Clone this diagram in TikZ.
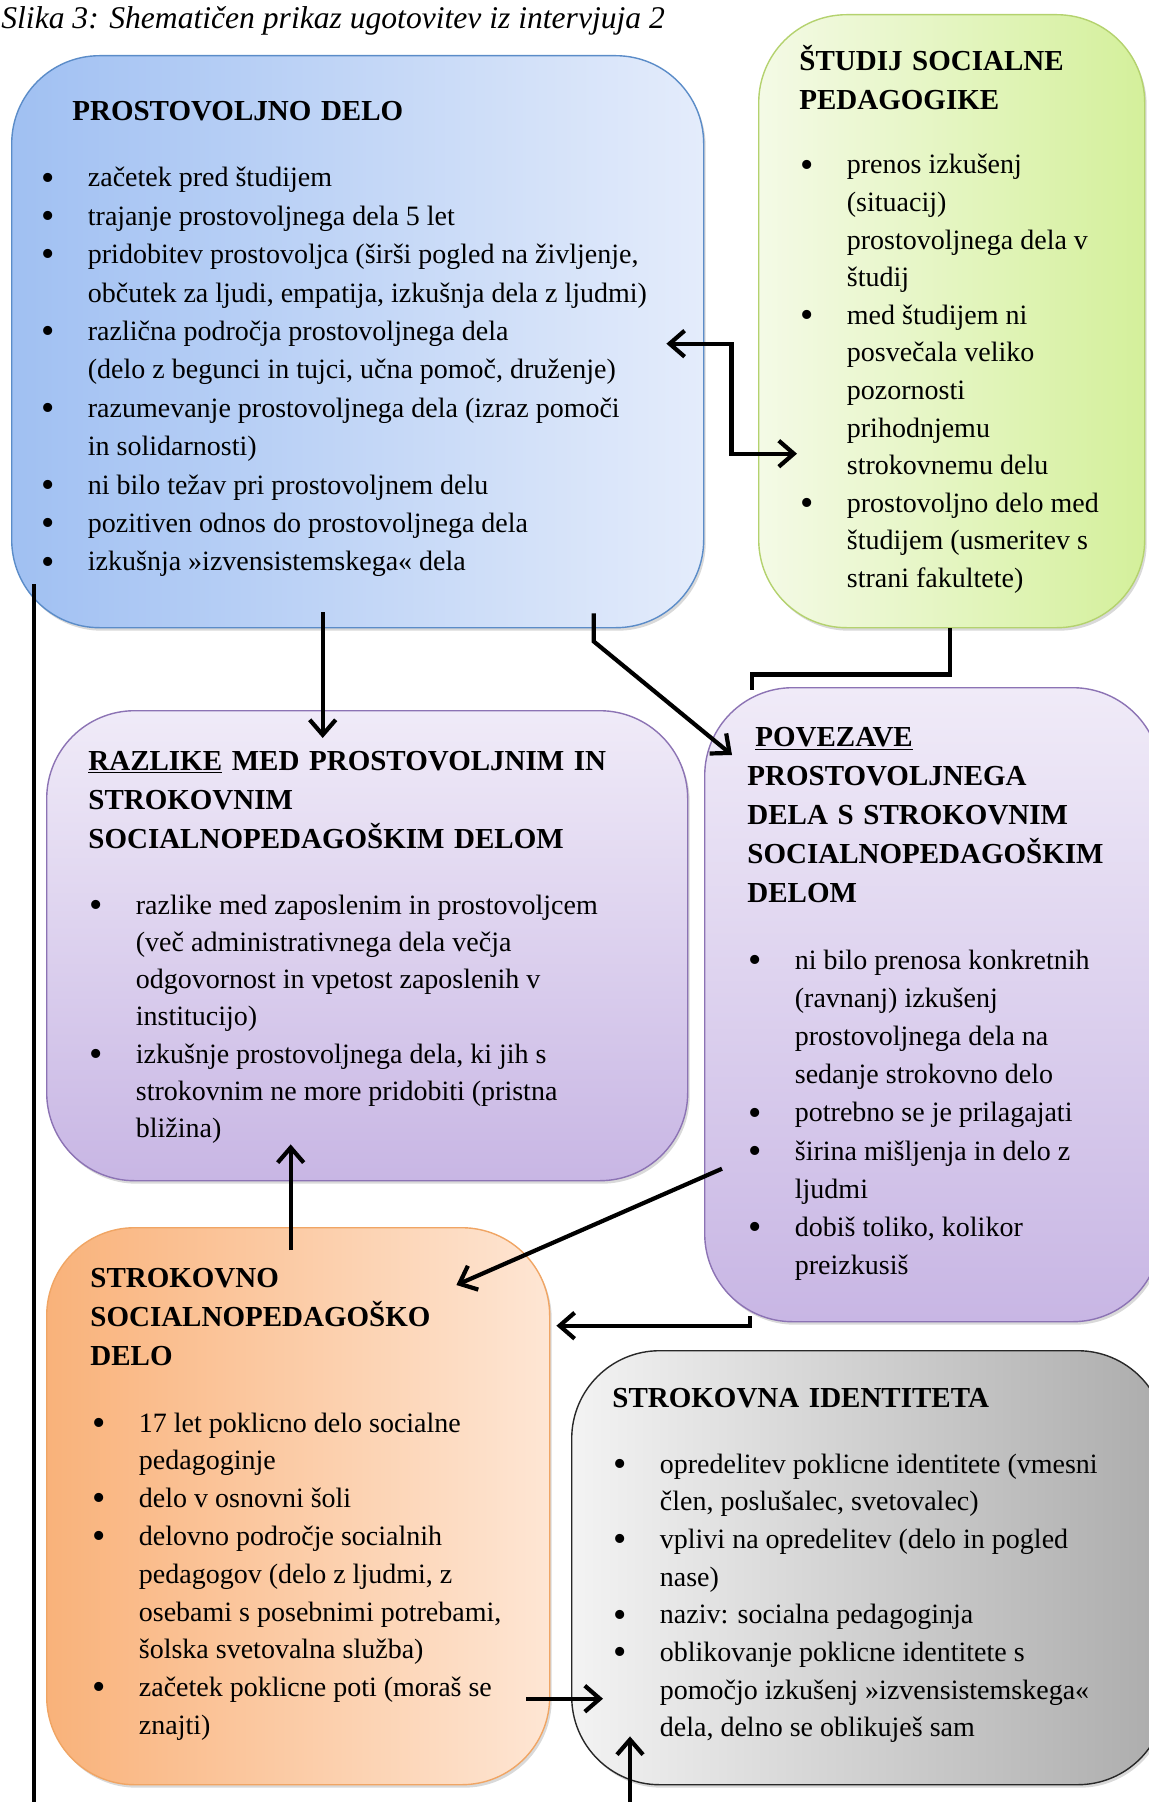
\documentclass[tikz,border=0pt]{standalone}
\usepackage{fontspec}
\setmainfont{Liberation Serif}
\usepackage{xcolor}
\usepackage{tikz}
\usetikzlibrary{arrows.meta, calc, shadows}
\definecolor{pdline}{RGB}{91, 140, 200}
\definecolor{pdleft}{RGB}{160, 192, 242}
\definecolor{pdright}{RGB}{228, 236, 251}
\definecolor{stline}{RGB}{180, 210, 110}
\definecolor{stleft}{RGB}{244, 250, 230}
\definecolor{stright}{RGB}{212, 240, 155}
\definecolor{rzline}{RGB}{140, 115, 180}
\definecolor{rztop}{RGB}{240, 235, 248}
\definecolor{rzbottom}{RGB}{200, 182, 228}
\definecolor{sdline}{RGB}{240, 165, 100}
\definecolor{sdleft}{RGB}{249, 178, 122}
\definecolor{sdright}{RGB}{254, 230, 212}
\definecolor{siline}{RGB}{40, 40, 40}
\definecolor{sileft}{RGB}{243, 243, 243}
\definecolor{siright}{RGB}{172, 172, 172}
\newcommand{\bul}{\raisebox{-1.6pt}{\fontsize{19}{19}\selectfont\textbullet}}
\newenvironment{blist}{\begin{tabular}[t]{@{}p{23.25pt}@{}l@{}}}{\end{tabular}}

\begin{document}
\begin{tikzpicture}[
    x=0.5pt, y=-0.5pt,
    >={Straight Barb[length=7.5pt, width=13pt]},
    box/.style={rectangle, rounded corners=44pt, line width=0.7pt,
                anchor=north west, inner sep=0pt,
                drop shadow={shadow xshift=1pt, shadow yshift=-1.5pt, opacity=0.3}},
    pdbox/.style={box, draw=pdline, left color=pdleft, right color=pdright},
    stbox/.style={box, draw=stline, left color=stleft, right color=stright},
    rzbox/.style={box, draw=rzline, top color=rztop, bottom color=rzbottom},
    sdbox/.style={box, draw=sdline, left color=sdleft, right color=sdright},
    sibox/.style={box, draw=siline, left color=sileft, right color=siright},
    boxtitle/.style={anchor=base west, inner sep=0pt, align=left, text width=#1,
                     font=\fontsize{14.5}{19.5}\selectfont\bfseries},
    boxlist/.style={anchor=base west, inner sep=0pt, font=\fontsize{14}{#1}\selectfont},
    arrow/.style={->, line width=2.1pt},
    link/.style={line width=2.1pt}
]
\useasboundingbox (0,0) rectangle (1149,1802);
\clip (0,0) rectangle (1149,1802);

% Caption
\node[anchor=base west, inner sep=0pt, font=\fontsize{15.8}{19}\selectfont\itshape] (caption)
    at (1,29) {Slika 3: Shematičen prikaz ugotovitev iz intervjuja 2};

% Prostovoljno delo
\node[pdbox, minimum width=346pt, minimum height=286pt] (pd) at (11,55) {};
\node[boxtitle=320pt] (pd-title) at (72,121) {PROSTOVOLJNO DELO};
\node[boxlist=19.2pt] (pd-list) at (41,187) {\begin{blist}
\bul & začetek pred študijem\\
\bul & trajanje prostovoljnega dela 5 let\\
\bul & pridobitev prostovoljca (širši pogled na življenje,\\
 & občutek za ljudi, empatija, izkušnja dela z ljudmi)\\
\bul & različna področja prostovoljnega dela\\
 & (delo z begunci in tujci, učna pomoč, druženje)\\
\bul & razumevanje prostovoljnega dela (izraz pomoči\\
 & in solidarnosti)\\
\bul & ni bilo težav pri prostovoljnem delu\\
\bul & pozitiven odnos do prostovoljnega dela\\
\bul & izkušnja »izvensistemskega« dela
\end{blist}};

% Studij socialne pedagogike
\node[stbox, minimum width=193pt, minimum height=306.5pt] (st) at (758,14) {};
\node[boxtitle=180pt] (st-title) at (799,71) {ŠTUDIJ SOCIALNE\\PEDAGOGIKE};
\node[boxlist=18.8pt] (st-list) at (800,174) {\begin{blist}
\bul & prenos izkušenj\\
 & (situacij)\\
 & prostovoljnega dela v\\
 & študij\\
\bul & med študijem ni\\
 & posvečala veliko\\
 & pozornosti\\
 & prihodnjemu\\
 & strokovnemu delu\\
\bul & prostovoljno delo med\\
 & študijem (usmeritev s\\
 & strani fakultete)
\end{blist}};

% Razlike
\node[rzbox, minimum width=320.5pt, minimum height=235pt] (rz) at (46,710) {};
\node[boxtitle=300pt] (rz-title) at (88,770)
    {\underline{RAZLIKE} MED PROSTOVOLJNIM IN\\STROKOVNIM\\SOCIALNOPEDAGOŠKIM DELOM};
\node[boxlist=18.65pt] (rz-list) at (89,914) {\begin{blist}
\bul & razlike med zaposlenim in prostovoljcem\\
 & (več administrativnega dela večja\\
 & odgovornost in vpetost zaposlenih v\\
 & institucijo)\\
\bul & izkušnje prostovoljnega dela, ki jih s\\
 & strokovnim ne more pridobiti (pristna\\
 & bližina)
\end{blist}};

% Povezave
\node[rzbox, minimum width=228pt, minimum height=317pt] (pv) at (704,687) {};
\node[boxtitle=215pt] (pv-title) at (747,746)
    {\hspace{4pt}\underline{POVEZAVE}\\PROSTOVOLJNEGA\\DELA S STROKOVNIM\\SOCIALNOPEDAGOŠKIM\\DELOM};
\node[boxlist=19.1pt] (pv-list) at (748,969) {\begin{blist}
\bul & ni bilo prenosa konkretnih\\
 & (ravnanj) izkušenj\\
 & prostovoljnega dela na\\
 & sedanje strokovno delo\\
\bul & potrebno se je prilagajati\\
\bul & širina mišljenja in delo z\\
 & ljudmi\\
\bul & dobiš toliko, kolikor\\
 & preizkusiš
\end{blist}};

% Strokovno socialnopedagosko delo
\node[sdbox, minimum width=251.5pt, minimum height=278.5pt] (sd) at (46,1227) {};
\node[boxtitle=230pt] (sd-title) at (90,1287) {STROKOVNO\\SOCIALNOPEDAGOŠKO\\DELO};
\node[boxlist=18.9pt] (sd-list) at (92,1432) {\begin{blist}
\bul & 17 let poklicno delo socialne\\
 & pedagoginje\\
\bul & delo v osnovni šoli\\
\bul & delovno področje socialnih\\
 & pedagogov (delo z ljudmi, z\\
 & osebami s posebnimi potrebami,\\
 & šolska svetovalna služba)\\
\bul & začetek poklicne poti (moraš se\\
 & znajti)
\end{blist}};

% Strokovna identiteta
\node[sibox, minimum width=297pt, minimum height=217pt] (si) at (571,1350) {};
\node[boxtitle=280pt] (si-title) at (612,1407) {STROKOVNA IDENTITETA};
\node[boxlist=18.85pt] (si-list) at (613,1473) {\begin{blist}
\bul & opredelitev poklicne identitete (vmesni\\
 & člen, poslušalec, svetovalec)\\
\bul & vplivi na opredelitev (delo in pogled\\
 & nase)\\
\bul & naziv: socialna pedagoginja\\
\bul & oblikovanje poklicne identitete s\\
 & pomočjo izkušenj »izvensistemskega«\\
 & dela, delno se oblikuješ sam
\end{blist}};

% Connections
\draw[arrow, <->] ($(pd.east)+(-38,2)$) -- ++(65,0) |- ($(st.west)+(39,132.5)$);
\draw[arrow] ($(pd.south)+(-35,-16)$) -- ($(rz.north)+(-44.5,28)$);
\draw[arrow] ($(pd.south)+(236,-15)$) -- ++(0,28) -- ($(pv.north west)+(28,68)$);
\draw[link] ($(st.south)+(-2,0)$) -- ++(0,46) -| ($(pv.north west)+(48,3)$);
\draw[arrow] ($(sd.north)+(-7.5,23)$) -- ($(rz.south)+(-76.5,-37)$);
\draw[arrow] ($(pv.west)+(18,164)$) -- ($(sd.north east)+(-94,58)$);
\draw[arrow] ($(pv.south west)+(46,-6)$) |- ($(sd.east)+(6,-180.5)$);
\draw[arrow] ($(sd.east)+(-24,192.5)$) -- ($(si.west)+(32,131)$);
\draw[arrow] ($(pd.south west)+(23,-44)$) -- ++(0,1247) -| ($(si.south west)+(59,-49)$);

\end{tikzpicture}
\end{document}
